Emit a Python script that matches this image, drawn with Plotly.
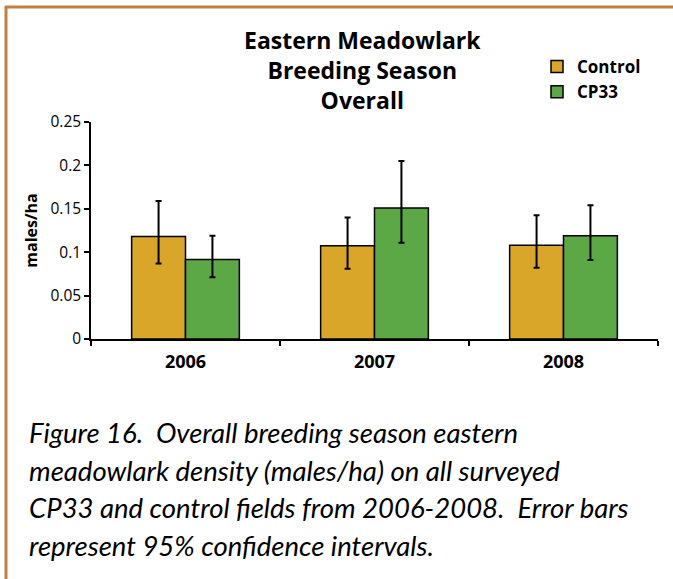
import plotly.graph_objects as go

# ---- data ----
years = ["2006", "2007", "2008"]
control_vals = [0.118, 0.1075, 0.108]
control_hi = [0.159, 0.140, 0.1425]
control_lo = [0.087, 0.081, 0.082]
cp33_vals = [0.0915, 0.151, 0.119]
cp33_hi = [0.119, 0.205, 0.154]
cp33_lo = [0.071, 0.111, 0.091]
y_ticks = [0, 0.05, 0.1, 0.15, 0.2, 0.25]
y_ticktext = ["0", "0.05", "0.1", "0.15", "0.2", "0.25"]

# ---- layout constants ----
W, H = 673, 579
L, R, T, B = 91, 15, 122, 240
PW, PH = W - L - R, H - T - B


def px_x(px):
    return (px - L) / PW


def px_y(py):
    return (H - B - py) / PH


GOLD = "#D9A62A"
GREEN = "#5DA846"
BORDER = "#C47F3C"
FONT = "Open Sans"
CAPFONT = "Lato"

fig = go.Figure()
fig.add_trace(go.Bar(
    name="Control", x=years, y=control_vals,
    marker=dict(color=GOLD, line=dict(color="black", width=1.5)),
    error_y=dict(type="data", symmetric=False,
                 array=[h - v for h, v in zip(control_hi, control_vals)],
                 arrayminus=[v - l for l, v in zip(control_lo, control_vals)],
                 color="black", thickness=2, width=3),
))
fig.add_trace(go.Bar(
    name="CP33", x=years, y=cp33_vals,
    marker=dict(color=GREEN, line=dict(color="black", width=1.5)),
    error_y=dict(type="data", symmetric=False,
                 array=[h - v for h, v in zip(cp33_hi, cp33_vals)],
                 arrayminus=[v - l for l, v in zip(cp33_lo, cp33_vals)],
                 color="black", thickness=2, width=3),
))

fig.update_layout(
    width=W, height=H,
    margin=dict(l=L, r=R, t=T, b=B, autoexpand=False),
    paper_bgcolor="white", plot_bgcolor="white",
    barmode="group", bargap=0.43, bargroupgap=0,
    font=dict(family=FONT, color="black"),
    legend=dict(x=px_x(537), y=px_y(49), xanchor="left", yanchor="top",
                font=dict(size=17, family=FONT, color="black", weight="bold"),
                bgcolor="rgba(0,0,0,0)", tracegroupgap=0),
    xaxis=dict(showline=True, linecolor="black", linewidth=1.5,
               ticks="outside", tickson="boundaries", ticklen=5,
               tickcolor="black", tickwidth=1.5,
               tickfont=dict(size=18, family=FONT, color="black", weight="bold"),
               ticklabelstandoff=6, showgrid=False, automargin=False),
    yaxis=dict(range=[0, 0.25], tickvals=y_ticks, ticktext=y_ticktext,
               showline=True, linecolor="black", linewidth=1.5,
               ticks="outside", ticklen=5, tickcolor="black", tickwidth=1.5,
               tickfont=dict(size=15.5, family=FONT, color="black"),
               showgrid=False, zeroline=False, automargin=False,
               title=dict(text="<b>males/ha</b>", standoff=9,
                          font=dict(size=16, family=FONT, color="black"))),
)

# chart title
fig.add_annotation(text="<b>Eastern Meadowlark<br>Breeding Season<br>Overall</b>",
                   xref="paper", yref="paper", x=px_x(362), y=px_y(70),
                   xanchor="center", yanchor="middle", showarrow=False,
                   font=dict(size=23, family=FONT, color="black"))

# page border (top and left)
fig.add_shape(type="line", xref="paper", yref="paper",
              x0=px_x(5), x1=px_x(W + 5), y0=px_y(7), y1=px_y(7),
              line=dict(color=BORDER, width=3))
fig.add_shape(type="line", xref="paper", yref="paper",
              x0=px_x(6), x1=px_x(6), y0=px_y(6), y1=px_y(H + 5),
              line=dict(color=BORDER, width=3))

caption = [
    "Figure 16.  Overall breeding season eastern",
    "meadowlark density (males/ha) on all surveyed",
    "CP33 and control fields from 2006-2008.  Error bars",
    "represent 95% confidence intervals.",
]
cap_y = [432, 470, 507, 545]
for line, yy in zip(caption, cap_y):
    fig.add_annotation(text="<i>" + line.replace("  ", "&nbsp; ") + "</i>",
                       xref="paper", yref="paper",
                       x=px_x(27), y=px_y(yy), xanchor="left", yanchor="middle",
                       showarrow=False,
                       font=dict(size=27.5, family=CAPFONT, color="black"))

fig.write_html("out.html")
